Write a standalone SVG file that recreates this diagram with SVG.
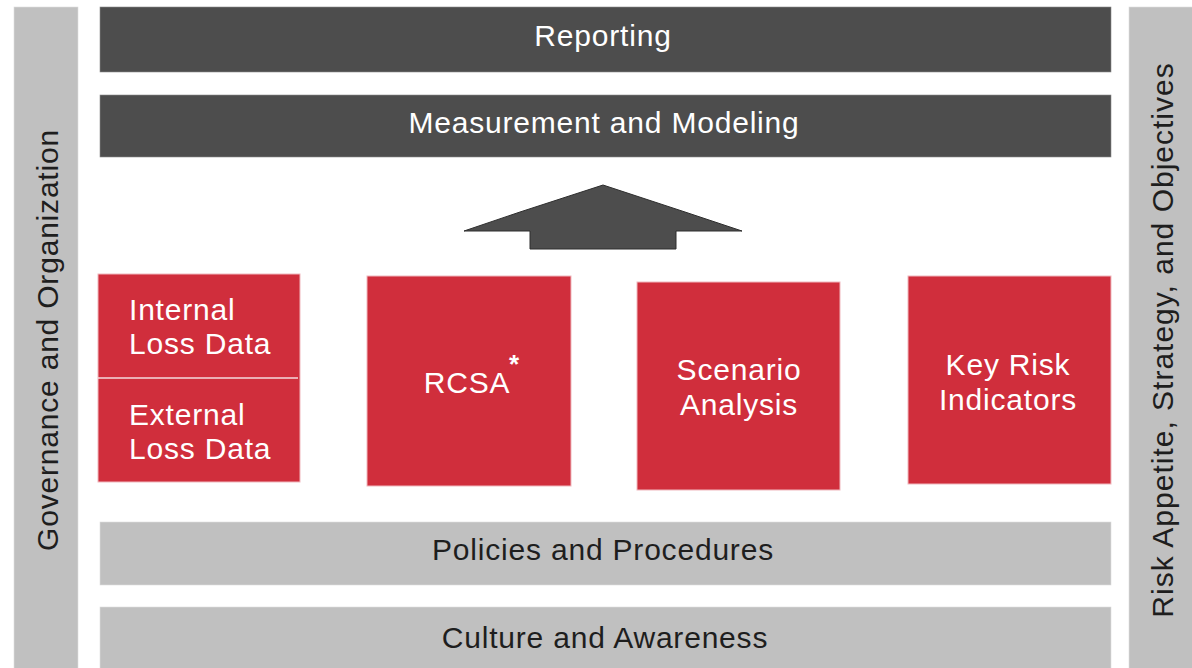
<svg xmlns="http://www.w3.org/2000/svg" width="1192" height="668" viewBox="0 0 1192 668">
  <style>
    .dark { fill: #4d4d4d; stroke: #8a8a8a; stroke-width: 0.6; }
    .light { fill: #c0c0c0; stroke: #dcdcdc; stroke-width: 0.6; }
    .red { fill: #d02e3c; stroke: #f0b8be; stroke-width: 1; }
    text { font-family: "Liberation Sans", Arial, sans-serif; font-size: 30px; letter-spacing: 0.8px; }
    .w { fill: #ffffff; }
    .k { fill: #1e1e1e; }
    .mid { text-anchor: middle; }
  </style>
  <rect x="0" y="0" width="1192" height="668" fill="#ffffff"/>

  <g id="governance">
    <rect class="light" x="14" y="7" width="64" height="668"/>
    <text class="k mid" transform="translate(58,340) rotate(-90)">Governance and Organization</text>
  </g>
  <g id="risk-appetite">
    <rect class="light" x="1129" y="7" width="70" height="668"/>
    <text class="k mid" transform="translate(1173,340) rotate(-90)" style="letter-spacing:1px">Risk Appetite, Strategy, and Objectives</text>
  </g>

  <g id="reporting">
    <rect class="dark" x="100" y="7" width="1011" height="65"/>
    <text class="w mid" x="603" y="46">Reporting</text>
  </g>
  <g id="measurement">
    <rect class="dark" x="100" y="95" width="1011" height="62"/>
    <text class="w mid" x="604" y="133">Measurement and Modeling</text>
  </g>

  <g id="connectors">
    <polygon points="464,231 520,212 603,185 685,212 742,231 676,231 676,249 530,249 530,231" fill="#4d4d4d" stroke="#2e2e2e" stroke-width="1"/>
  </g>

  <g id="loss-data">
    <rect class="red" x="98" y="274" width="202" height="208"/>
    <line x1="98" y1="378" x2="298" y2="378" stroke="#f4dadd" stroke-width="1.5"/>
    <text class="w" x="129" y="320">Internal</text>
    <text class="w" x="129" y="354">Loss Data</text>
    <text class="w" x="129" y="425">External</text>
    <text class="w" x="129" y="459">Loss Data</text>
  </g>
  <g id="rcsa">
    <rect class="red" x="367" y="276" width="204" height="210"/>
    <text class="w mid" x="467" y="393">RCSA</text>
    <text class="w" x="509" y="373" style="font-size:26px;font-weight:bold;letter-spacing:0">*</text>
  </g>
  <g id="scenario">
    <rect class="red" x="637" y="282" width="203" height="208"/>
    <text class="w mid" x="739" y="380">Scenario</text>
    <text class="w mid" x="739" y="415">Analysis</text>
  </g>
  <g id="kri">
    <rect class="red" x="908" y="276" width="203" height="208"/>
    <text class="w mid" x="1008" y="375">Key Risk</text>
    <text class="w mid" x="1008" y="410">Indicators</text>
  </g>

  <g id="policies">
    <rect class="light" x="100" y="522" width="1011" height="63"/>
    <text class="k mid" x="603" y="560">Policies and Procedures</text>
  </g>
  <g id="culture">
    <rect class="light" x="100" y="607" width="1011" height="70"/>
    <text class="k mid" x="605" y="648">Culture and Awareness</text>
  </g>
</svg>
